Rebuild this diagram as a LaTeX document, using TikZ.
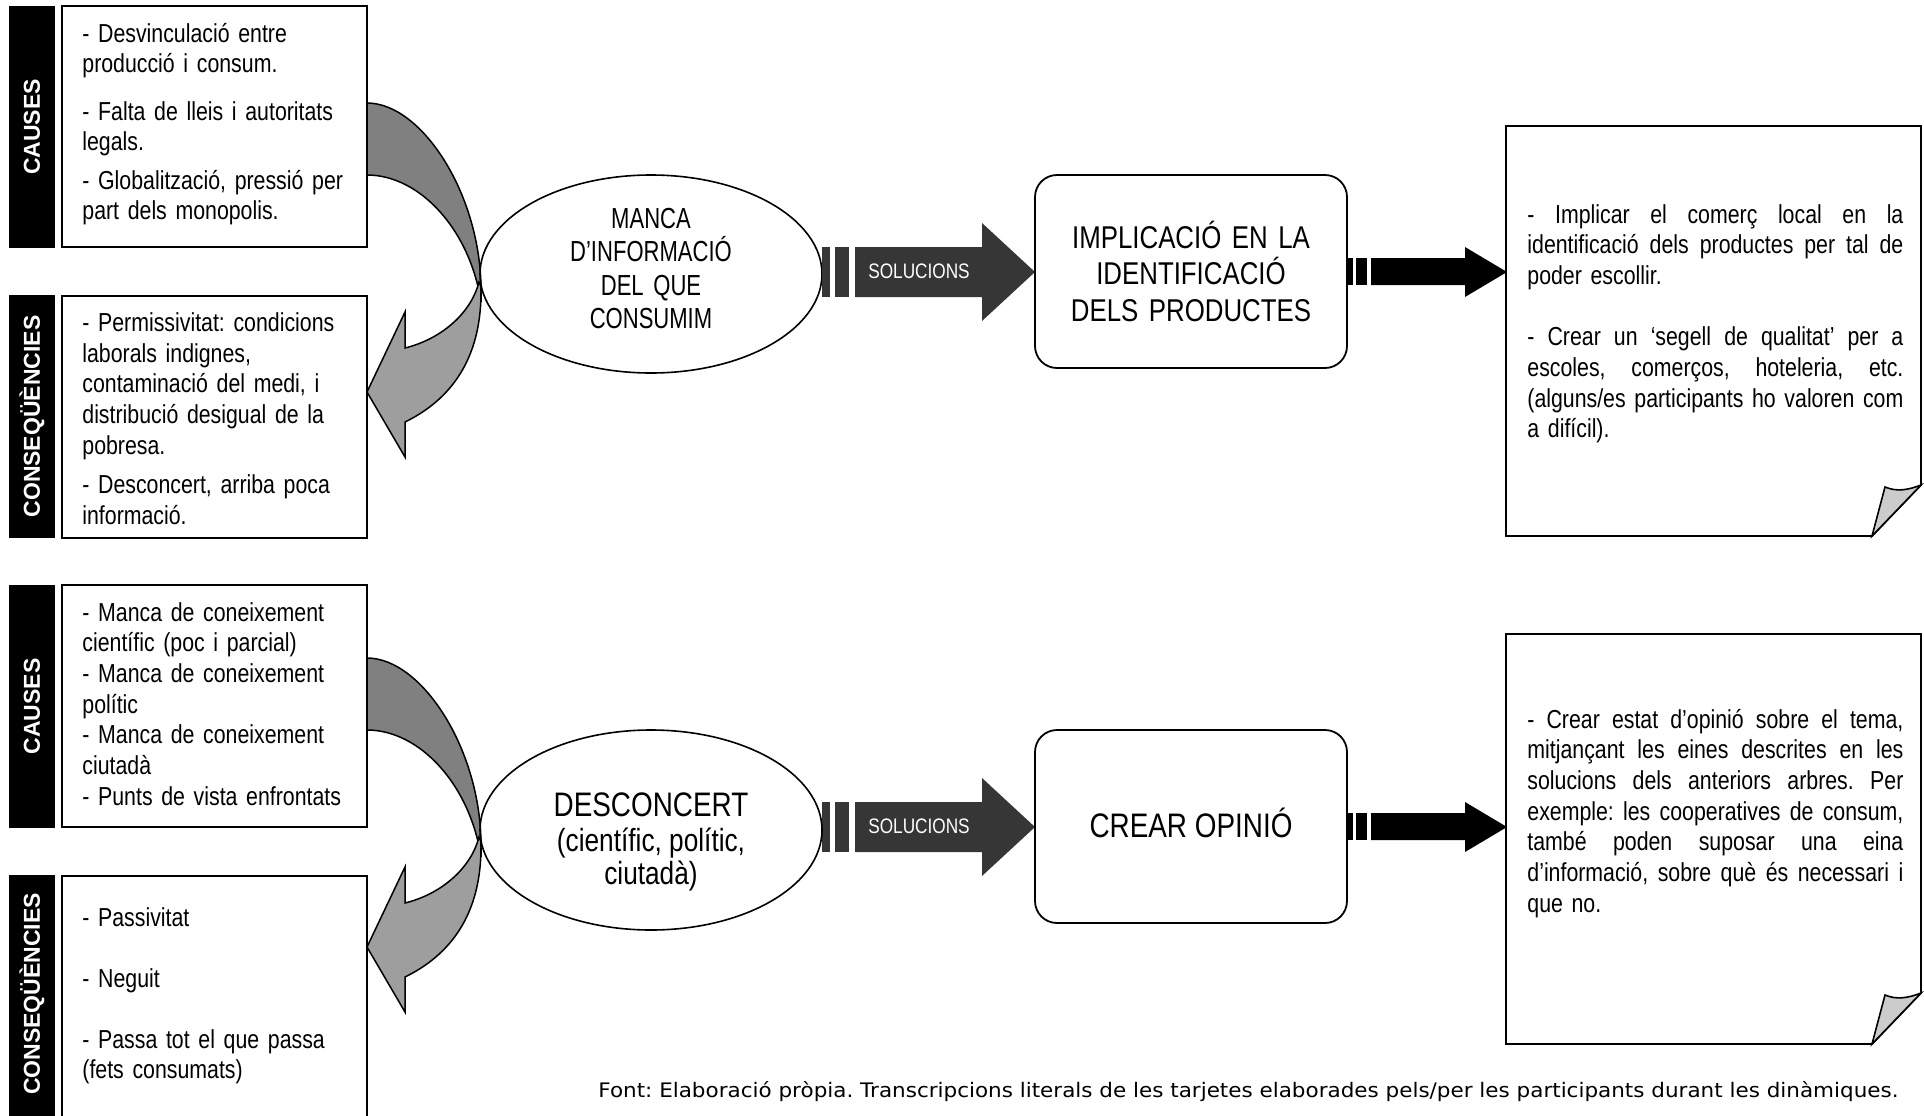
\documentclass[tikz,border=0pt]{standalone}
\usepackage{fontspec}
\usepackage{graphicx}
\newfontfamily\narrowf[FakeStretch=0.82]{Liberation Sans}
\newfontfamily\titlef[FakeStretch=0.76]{Liberation Sans}
\newfontfamily\barf{Liberation Sans}
\newfontfamily\footf{DejaVu Sans}
\definecolor{banddark}{gray}{0.5}
\definecolor{bandlight}{gray}{0.62}
\definecolor{solgray}{gray}{0.21}
\definecolor{foldgray}{gray}{0.8}
\frenchspacing
\newcommand{\jl}[1]{\leavevmode\hbox to 188pt{\spaceskip=\fontdimen2\font plus 1fil\xspaceskip=\fontdimen2\font plus 1fil\relax #1}}
\tikzset{
  sidebar/.style={fill=black, draw=none, minimum width=23pt, inner sep=0},
  sidetext/.style={rotate=90, text=white, inner sep=0, font=\barf\bfseries\fontsize{11.5pt}{13pt}\selectfont},
  listbox/.style={draw=black, line width=1pt, fill=white, minimum width=152.5pt, inner sep=0},
  bodytext/.style={anchor=base west, inner sep=0, text width=150pt, align=left, font=\narrowf\frenchspacing\fontsize{13pt}{15.35pt}\selectfont},
  notetext/.style={anchor=base west, inner sep=0, text width=188pt, align=left, font=\narrowf\frenchspacing\fontsize{13pt}{15.35pt}\selectfont},
  ellipseline/.style={draw=black, line width=0.8pt},
  roundbox/.style={draw=black, line width=0.9pt, rounded corners=11pt, minimum width=156pt, minimum height=96.5pt, inner sep=0},
  titletext/.style={anchor=base, inner sep=0, text width=170pt, align=center},
  onetitle/.style={anchor=base, inner sep=0},
  soltext/.style={text=white, inner sep=0, font=\narrowf\fontsize{10.5pt}{12pt}\selectfont},
  notesheet/.style={draw=black, line width=0.9pt, fill=white},
  foldpart/.style={draw=black, line width=0.8pt, fill=foldgray},
  banddk/.style={draw=black, line width=0.75pt, fill=banddark},
  bandlt/.style={draw=black, line width=0.75pt, fill=bandlight},
}
\newcommand{\curvedarrow}{%
  \filldraw[banddk] (367,103) .. controls (422,103) and (481,195) .. (481,290) -- (481,302) .. controls (470,230) and (420,175) .. (367,175) -- cycle;
  \filldraw[bandlt] (479,282) .. controls (481,286) .. (481,292) .. controls (481,360) and (450,400) .. (405,422) -- (405,457) -- (367,392) -- (405,312) -- (405,348) .. controls (445,338) and (472,310) .. (479,282) -- cycle;
}
\newcommand{\solarrow}[1]{%
  \fill[solgray] (822,247) rectangle (830,297);
  \fill[solgray] (835,247) rectangle (849,297);
  \fill[solgray] (855,247) -- (982,247) -- (982,223) -- (1035,272) -- (982,321) -- (982,297) -- (855,297) -- cycle;
  \node[soltext] (#1) at (919,271) {SOLUCIONS};
}
\newcommand{\blkarrow}{%
  \fill[black] (1348,258) rectangle (1353,285);
  \fill[black] (1356,258) rectangle (1367,285);
  \fill[black] (1371,258) -- (1465,258) -- (1465,247) -- (1507,272) -- (1465,297) -- (1465,285) -- (1371,285) -- cycle;
}
\newcommand{\notesheetshape}{%
  \draw[notesheet] (1506,126) -- (1921,126) -- (1921,485) -- (1872,536) -- (1506,536) -- cycle;
  \filldraw[foldpart] (1872,536) -- (1885,487) .. controls (1897,492) and (1908,490) .. (1921,485) -- cycle;
}
\begin{document}
\begin{tikzpicture}[x=0.5pt, y=-0.5pt]
\fill[white] (0,0) rectangle (1924,1115);
\useasboundingbox (0,0) rectangle (1924,1115);
\clip (0,0) rectangle (1924,1115);

% ---------- top tree ----------
\node[sidebar, minimum height=121pt] (bar1) at (32,127) {};
\node[sidetext] (bar1t) at (bar1.center) {CAUSES};
\node[listbox, minimum height=120.5pt] (c1) at (214.5,126.5) {};
\node[bodytext] (c1a) at (82,42) {- Desvinculació entre\\producció i consum.};
\node[bodytext] (c1b) at (82,120) {- Falta de lleis i autoritats\\legals.};
\node[bodytext] (c1c) at (82,189) {- Globalització, pressió per\\part dels monopolis.};

\node[sidebar, minimum height=121.5pt] (bar2) at (32,416.5) {};
\node[sidetext] (bar2t) at (bar2.center) {CONSEQÜÈNCIES};
\node[listbox, minimum height=121pt] (q1) at (214.5,417) {};
\node[bodytext] (q1a) at (82,331.5) {- Permissivitat: condicions\\laborals indignes,\\contaminació del medi, i\\distribució desigual de la\\pobresa.};
\node[bodytext] (q1b) at (82,493.5) {- Desconcert, arriba poca\\informació.};

\curvedarrow
\coordinate (e1) at (651,274);
\draw[ellipseline] (e1) ellipse [x radius=171, y radius=99];
\node[titletext, font=\titlef\fontsize{14.5pt}{16.75pt}\selectfont] (e1t) at (651,228) {MANCA\\D’INFORMACIÓ\\DEL QUE\\CONSUMIM};
\solarrow{sol1}
\node[roundbox] (b1) at (1191,271.5) {};
\node[titletext, font=\narrowf\fontsize{15.75pt}{18.25pt}\selectfont] (b1t) at (1191,248) {IMPLICACIÓ EN LA\\IDENTIFICACIÓ\\DELS PRODUCTES};
\blkarrow
\notesheetshape
\node[notetext] (n1t) at (1527,223) {\jl{- Implicar el comerç local en la}\\\jl{identificació dels productes per tal de}\\poder escollir.\\[15.35pt]\jl{- Crear un ‘segell de qualitat’ per a}\\\jl{escoles, comerços, hoteleria, etc.}\\\jl{(alguns/es participants ho valoren com}\\a difícil).};

% ---------- bottom tree ----------
\node[sidebar, minimum height=121.5pt] (bar3) at (32,706.5) {};
\node[sidetext] (bar3t) at (bar3.center) {CAUSES};
\node[listbox, minimum height=121pt] (c2) at (214.5,706) {};
\node[bodytext] (c2a) at (82,621) {- Manca de coneixement\\científic (poc i parcial)\\- Manca de coneixement\\polític\\- Manca de coneixement\\ciutadà\\- Punts de vista enfrontats};

\node[sidebar, minimum height=125pt] (bar4) at (32,1000) {};
\node[sidetext] (bar4t) at (32,994) {CONSEQÜÈNCIES};
\node[listbox, minimum height=130pt] (q2) at (214.5,1006) {};
\node[bodytext] (q2a) at (82,926) {- Passivitat};
\node[bodytext] (q2b) at (82,987) {- Neguit};
\node[bodytext] (q2c) at (82,1048) {- Passa tot el que passa\\(fets consumats)};

\begin{scope}[shift={(0,555)}]
\curvedarrow
\solarrow{sol2}
\blkarrow
\end{scope}
\coordinate (e2) at (651,830);
\draw[ellipseline] (e2) ellipse [x radius=171, y radius=100];
\node[onetitle, font=\narrowf\fontsize{17pt}{20pt}\selectfont] (e2t1) at (651,816) {DESCONCERT};
\node[onetitle, font=\narrowf\fontsize{16pt}{19pt}\selectfont] (e2t2) at (651,851) {(científic, polític,};
\node[onetitle, font=\narrowf\fontsize{16pt}{19pt}\selectfont] (e2t3) at (651,884) {ciutadà)};
\node[roundbox] (b2) at (1191,826.5) {};
\node[onetitle, font=\narrowf\fontsize{17pt}{20pt}\selectfont] (b2t) at (1191,837) {CREAR OPINIÓ};
\begin{scope}[shift={(0,508)}]
\notesheetshape
\end{scope}
\node[notetext] (n2t) at (1527,728) {\jl{- Crear estat d’opinió sobre el tema,}\\\jl{mitjançant les eines descrites en les}\\\jl{solucions dels anteriors arbres. Per}\\\jl{exemple: les cooperatives de consum,}\\\jl{també poden suposar una eina}\\\jl{d’informació, sobre què és necessari i}\\que no.};

\node[anchor=base west, inner sep=0] (src) at (598,1097) {\resizebox{650pt}{\height}{\footf\fontsize{10pt}{12pt}\selectfont Font: Elaboració pròpia. Transcripcions literals de les tarjetes elaborades pels/per les participants durant les dinàmiques.}};
\end{tikzpicture}
\end{document}
